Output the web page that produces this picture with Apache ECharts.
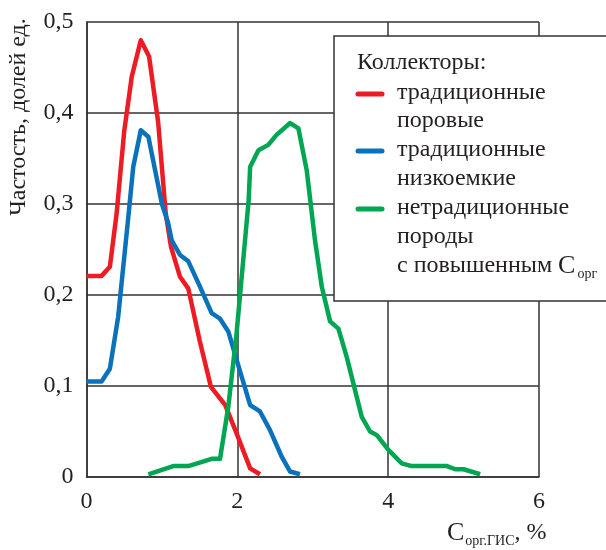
<!DOCTYPE html>
<html>
<head>
<meta charset="utf-8">
<script src="https://cdn.jsdelivr.net/npm/echarts@6/dist/echarts.min.js"></script>
<style>
html,body{margin:0;padding:0;background:#fff;}
#main{width:606px;height:550px;}
</style>
</head>
<body>
<div id="main"></div>
<script>
// ---- data ----
const redX   = [0, 0.2, 0.31, 0.4, 0.5, 0.6, 0.72, 0.83, 0.95, 1.05, 1.12, 1.24, 1.35, 1.5, 1.65, 1.84, 1.99, 2.17, 2.30];
const redY   = [0.221, 0.221, 0.231, 0.29, 0.38, 0.44, 0.48, 0.462, 0.39, 0.29, 0.253, 0.22, 0.207, 0.15, 0.099, 0.079, 0.048, 0.0095, 0.003];
const blueX  = [0, 0.2, 0.31, 0.42, 0.55, 0.62, 0.72, 0.82, 1.0, 1.08, 1.13, 1.24, 1.35, 1.5, 1.66, 1.77, 1.88, 1.99, 2.17, 2.30, 2.43, 2.59, 2.70, 2.83];
const blueY  = [0.105, 0.105, 0.119, 0.176, 0.282, 0.341, 0.381, 0.374, 0.30, 0.28, 0.26, 0.244, 0.237, 0.21, 0.18, 0.174, 0.16, 0.129, 0.079, 0.072, 0.052, 0.022, 0.006, 0.003];
const greenX = [0.82, 1.15, 1.35, 1.66, 1.77, 1.88, 1.99, 2.15, 2.17, 2.28, 2.41, 2.52, 2.70, 2.81, 2.92, 3.03, 3.12, 3.23, 3.34, 3.45, 3.65, 3.76, 3.85, 4.0, 4.18, 4.31, 4.78, 4.89, 5.0, 5.22];
const greenY = [0.003, 0.012, 0.012, 0.02, 0.02, 0.077, 0.158, 0.304, 0.341, 0.359, 0.365, 0.376, 0.389, 0.383, 0.337, 0.26, 0.209, 0.171, 0.163, 0.132, 0.066, 0.05, 0.046, 0.030, 0.015, 0.012, 0.012, 0.0085, 0.0085, 0.003];
const xTicks = [0, 2, 4, 6];
const yTicks = [0, 0.1, 0.2, 0.3, 0.4, 0.5];
const seriesNames = ['традиционные поровые', 'традиционные низкоемкие', 'нетрадиционные породы с повышенным Cорг'];
const legendTitle = 'Коллекторы:';
const legendLines = [['традиционные', 'поровые'], ['традиционные', 'низкоемкие'], ['нетрадиционные', 'породы', 'с повышенным {m|С}{s|орг}']];
const yName = 'Частость, долей ед.';

const colors = ['#ED1C24', '#0A72BA', '#00A651'];
const FONT = 'Liberation Serif';
const FS = 24;

function pairs(xs, ys){ return xs.map((x,i)=>[x, ys[i]]); }

const chart = echarts.init(document.getElementById('main'), null, {renderer:'canvas'});

// legend graphic
const lg = [];
const boxL = 334, boxT = 36, boxB = 301;
lg.push({type:'rect', shape:{x:boxL, y:boxT, width:300, height:boxB-boxT}, style:{fill:'#fff', stroke:'#333', lineWidth:1.5}, z:50});
lg.push({type:'text', x:357, y:63, style:{text:legendTitle, font:FS+'px '+FONT, fill:'#231f20', verticalAlign:'middle', align:'left'}, z:51});
const rowY = [[93,121],[150,179],[208,237,266]];
legendLines.forEach((lines, i)=>{
  lg.push({type:'line', shape:{x1:358, y1:rowY[i][0]+1, x2:382, y2:rowY[i][0]+1}, style:{stroke:colors[i], lineWidth:5, lineCap:'round'}, z:51});
  lines.forEach((t, j)=>{
    lg.push({type:'text', x:397, y:rowY[i][j], style:{
      text:t, font:FS+'px '+FONT, fill:'#231f20', verticalAlign:'middle', align:'left',
      rich:{m:{fontSize:FS+2, fontFamily:FONT, fill:'#231f20'}, s:{fontSize:14, fontFamily:FONT, fill:'#231f20', padding:[16,0,0,2]}}
    }, z:51});
  });
});
// y axis name
lg.push({type:'text', x:19, y:117, rotation:Math.PI/2, style:{text:yName, font:'24px '+FONT, fill:'#231f20', align:'center', verticalAlign:'middle'}, z:51});
// x axis name
lg.push({type:'text', x:447, y:533, style:{
  text:'{m|С}{s|орг.ГИС}{n|, %}', fill:'#231f20', verticalAlign:'middle', align:'left',
  rich:{m:{fontSize:FS+2, fontFamily:FONT, fill:'#231f20'}, s:{fontSize:14, fontFamily:FONT, fill:'#231f20', padding:[16,0,0,1]}, n:{fontSize:FS, fontFamily:FONT, fill:'#231f20'}}
}, z:51});

const option = {
  animation:false,
  backgroundColor:'#fff',
  grid:{left:86.5, right:67, top:22, bottom:73, containLabel:false},
  xAxis:{type:'value', min:0, max:6, interval:2,
    axisLine:{show:true, lineStyle:{color:'#333', width:1.5}},
    axisTick:{show:false},
    axisLabel:{fontFamily:FONT, fontSize:FS, color:'#231f20', margin:13},
    splitLine:{show:true, lineStyle:{color:'#333', width:1.5}}
  },
  yAxis:{type:'value', min:0, max:0.5, interval:0.1,
    axisLine:{show:true, lineStyle:{color:'#333', width:1.5}},
    axisTick:{show:false},
    axisLabel:{fontFamily:FONT, fontSize:FS, color:'#231f20', margin:13,
      formatter:v=>String(Math.round(v*10)/10).replace('.', ',')},
    splitLine:{show:true, lineStyle:{color:'#333', width:1.5}}
  },
  series:[
    {name:seriesNames[0], type:'line', data:pairs(redX, redY), symbol:'none', clip:false, lineStyle:{color:colors[0], width:4.5, join:'round'}, z:3},
    {name:seriesNames[1], type:'line', data:pairs(blueX, blueY), symbol:'none', clip:false, lineStyle:{color:colors[1], width:4.5, join:'round'}, z:4},
    {name:seriesNames[2], type:'line', data:pairs(greenX, greenY), symbol:'none', clip:false, lineStyle:{color:colors[2], width:4.5, join:'round'}, z:5}
  ],
  graphic:{elements:lg}
};
chart.setOption(option);
</script>
</body>
</html>
